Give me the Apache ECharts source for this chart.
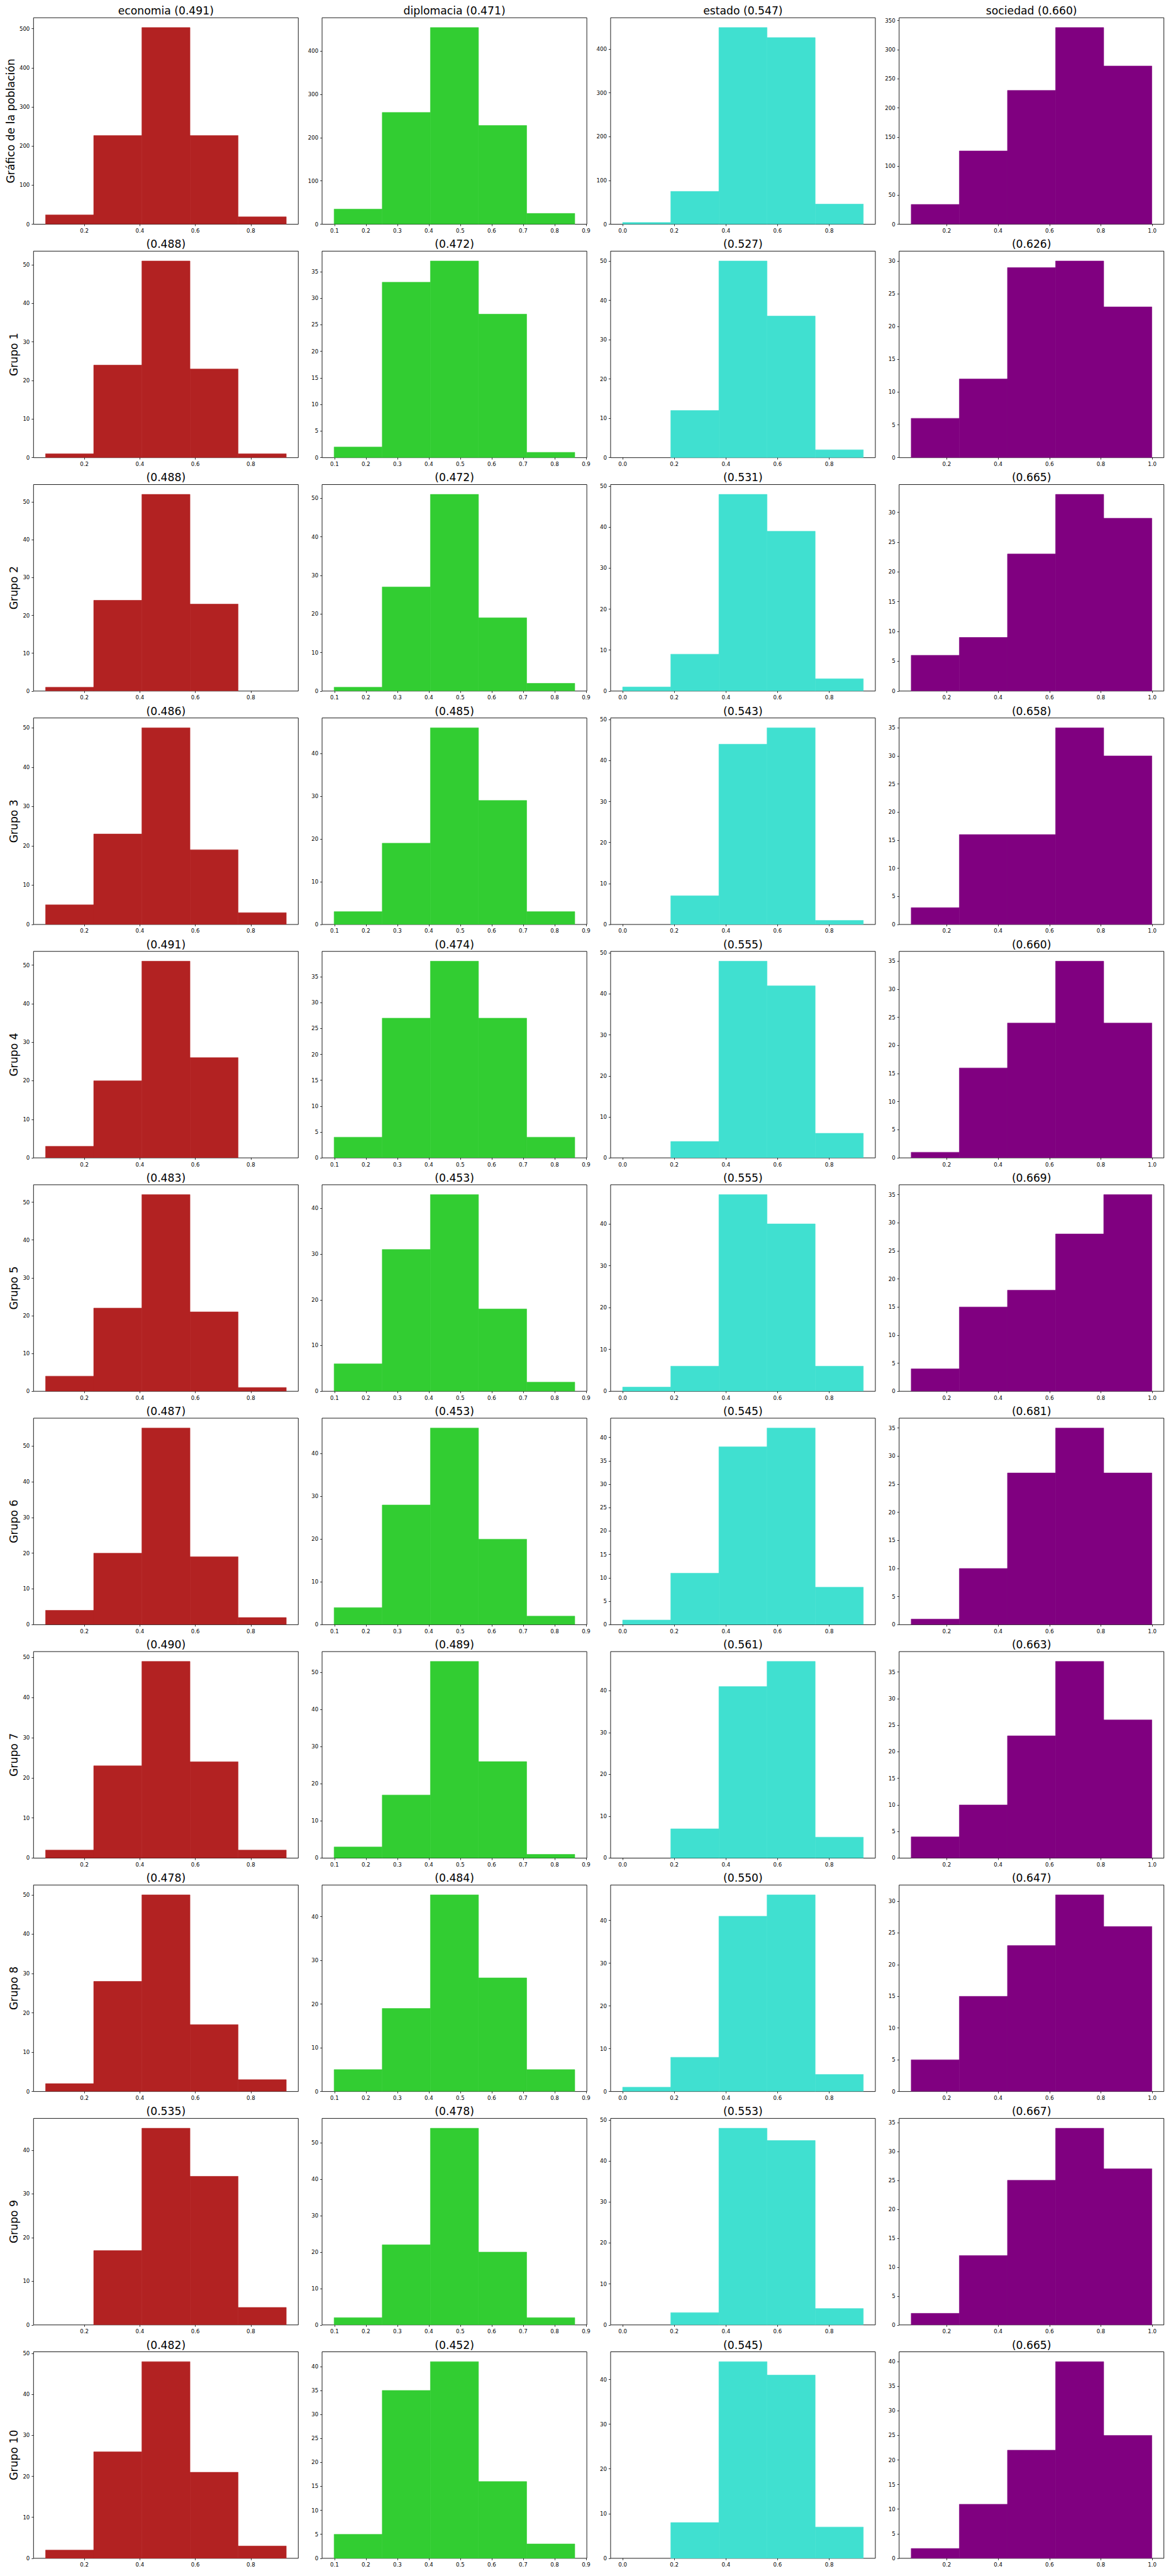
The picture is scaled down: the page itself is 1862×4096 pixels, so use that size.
<!DOCTYPE html>
<html>
<head>
<meta charset="utf-8">
<script src="https://cdn.jsdelivr.net/npm/echarts@6/dist/echarts.min.js"></script>
<style>
html,body{margin:0;padding:0;background:#fff;}
#c{width:1862px;height:4096px;}
</style>
</head>
<body>
<div id="c"></div>
<script>
// ---------- data ----------
const dimensionNames = ['economia', 'diplomacia', 'estado', 'sociedad'];
const dimensionColors = ['#B22222', '#32CD32', '#40E0D0', '#800080'];
const rowLabels = ['Gráfico de la población', 'Grupo 1', 'Grupo 2', 'Grupo 3', 'Grupo 4',
  'Grupo 5', 'Grupo 6', 'Grupo 7', 'Grupo 8', 'Grupo 9', 'Grupo 10'];

// histogram bin edges per dimension (5 bins)
const edgesEconomia   = [0.0602, 0.2337, 0.4072, 0.5807, 0.7541, 0.9276];
const edgesDiplomacia = [0.0988, 0.2518, 0.4049, 0.5579, 0.7110, 0.8640];
const edgesEstado     = [0.0000, 0.1864, 0.3728, 0.5592, 0.7456, 0.9320];
const edgesSociedad   = [0.0616, 0.2490, 0.4364, 0.6237, 0.8111, 0.9985];

// x tick labels per dimension
const xTicksEconomia   = [0.2, 0.4, 0.6, 0.8];
const xTicksDiplomacia = [0.1, 0.2, 0.3, 0.4, 0.5, 0.6, 0.7, 0.8, 0.9];
const xTicksEstado     = [0.0, 0.2, 0.4, 0.6, 0.8];
const xTicksSociedad   = [0.2, 0.4, 0.6, 0.8, 1.0];

// mean values shown in the titles (row 0 = population, then Grupo 1..10)
const meanEconomia   = [0.491, 0.488, 0.488, 0.486, 0.491, 0.483, 0.487, 0.490, 0.478, 0.535, 0.482];
const meanDiplomacia = [0.471, 0.472, 0.472, 0.485, 0.474, 0.453, 0.453, 0.489, 0.484, 0.478, 0.452];
const meanEstado     = [0.547, 0.527, 0.531, 0.543, 0.555, 0.555, 0.545, 0.561, 0.550, 0.553, 0.545];
const meanSociedad   = [0.660, 0.626, 0.665, 0.658, 0.660, 0.669, 0.681, 0.663, 0.647, 0.667, 0.665];

// counts per bin
const countsEconomia = [
  [24, 227, 503, 227, 19],
  [1, 24, 51, 23, 1],
  [1, 24, 52, 23, 0],
  [5, 23, 50, 19, 3],
  [3, 20, 51, 26, 0],
  [4, 22, 52, 21, 1],
  [4, 20, 55, 19, 2],
  [2, 23, 49, 24, 2],
  [2, 28, 50, 17, 3],
  [0, 17, 45, 34, 4],
  [2, 26, 48, 21, 3]
];
const countsDiplomacia = [
  [35, 258, 454, 228, 25],
  [2, 33, 37, 27, 1],
  [1, 27, 51, 19, 2],
  [3, 19, 46, 29, 3],
  [4, 27, 38, 27, 4],
  [6, 31, 43, 18, 2],
  [4, 28, 46, 20, 2],
  [3, 17, 53, 26, 1],
  [5, 19, 45, 26, 5],
  [2, 22, 54, 20, 2],
  [5, 35, 41, 16, 3]
];
const countsEstado = [
  [4, 75, 449, 426, 46],
  [0, 12, 50, 36, 2],
  [1, 9, 48, 39, 3],
  [0, 7, 44, 48, 1],
  [0, 4, 48, 42, 6],
  [1, 6, 47, 40, 6],
  [1, 11, 38, 42, 8],
  [0, 7, 41, 47, 5],
  [1, 8, 41, 46, 4],
  [0, 3, 48, 45, 4],
  [0, 8, 44, 41, 7]
];
const countsSociedad = [
  [34, 126, 230, 338, 272],
  [6, 12, 29, 30, 23],
  [6, 9, 23, 33, 29],
  [3, 16, 16, 35, 30],
  [1, 16, 24, 35, 24],
  [4, 15, 18, 28, 35],
  [1, 10, 27, 35, 27],
  [4, 10, 23, 37, 26],
  [5, 15, 23, 31, 26],
  [2, 12, 25, 34, 27],
  [2, 11, 22, 40, 25]
];

// ---------- layout (reference px * scale) ----------
const S = 0.62;
const colLeftRef = [86, 826, 1566, 2306];
const axWRef = 679;
const rowTop0Ref = 45.5, rowPitchRef = 598.6, axHRef = 529.6;
const FONT = 'DejaVu Sans';

const allEdges = [edgesEconomia, edgesDiplomacia, edgesEstado, edgesSociedad];
const allXTicks = [xTicksEconomia, xTicksDiplomacia, xTicksEstado, xTicksSociedad];
const allMeans = [meanEconomia, meanDiplomacia, meanEstado, meanSociedad];
const allCounts = [countsEconomia, countsDiplomacia, countsEstado, countsSociedad];

// matplotlib-like tick step (MaxNLocator, nbins=9, steps 1,2,2.5,5,10)
function niceStep(range) {
  const raw = range / 9;
  const scale = Math.pow(10, Math.floor(Math.log10(raw)));
  const steps = [1, 2, 2.5, 5, 10];
  for (const s of steps) { if (s * scale >= raw - 1e-12) return s * scale; }
  return 10 * scale;
}

const grids = [], xAxes = [], yAxes = [], series = [], graphics = [];
let k = 0;
for (let r = 0; r < rowLabels.length; r++) {
  const top = (rowTop0Ref + r * rowPitchRef) * S;
  const h = axHRef * S;
  for (let c = 0; c < 4; c++) {
    const left = colLeftRef[c] * S;
    const w = axWRef * S;
    const edges = allEdges[c];
    const counts = allCounts[c][r];
    const span = edges[5] - edges[0];
    const xmin = edges[0] - 0.05 * span, xmax = edges[5] + 0.05 * span;
    const cmax = Math.max.apply(null, counts);
    const ymax = cmax * 1.05;
    const step = niceStep(ymax);
    const yTicks = [];
    for (let v = 0; v <= ymax + 1e-9; v += step) yTicks.push(Math.round(v * 1000) / 1000);

    grids.push({left: left, top: top, width: w, height: h, show: true,
      borderColor: '#000', borderWidth: 0.9, backgroundColor: '#fff', containLabel: false});
    xAxes.push({type: 'value', gridIndex: k, min: xmin, max: xmax, position: 'bottom',
      splitLine: {show: false}, axisLine: {show: false, onZero: false},
      axisTick: {show: true, length: 3, inside: false, lineStyle: {color: '#000', width: 0.8},
        customValues: allXTicks[c]},
      axisLabel: {show: true, customValues: allXTicks[c], formatter: v => Number(v).toFixed(1),
        fontSize: 8.6, color: '#000', fontFamily: FONT, margin: 6,
        showMinLabel: true, showMaxLabel: true, hideOverlap: false}
    });
    yAxes.push({type: 'value', gridIndex: k, min: 0, max: ymax, position: 'left',
      splitLine: {show: false}, axisLine: {show: false, onZero: false},
      axisTick: {show: true, length: 3, inside: false, lineStyle: {color: '#000', width: 0.8},
        customValues: yTicks},
      axisLabel: {show: true, customValues: yTicks, formatter: v => String(Math.round(v)),
        fontSize: 8.6, color: '#000', fontFamily: FONT, margin: 6,
        showMinLabel: true, showMaxLabel: true, hideOverlap: false}
    });
    const color = dimensionColors[c];
    series.push({
      type: 'custom', coordinateSystem: 'cartesian2d', xAxisIndex: k, yAxisIndex: k,
      silent: true, animation: false, clip: true,
      encode: {x: [0, 1], y: 2},
      data: counts.map((cnt, i) => [edges[i], edges[i + 1], cnt]),
      renderItem: function (params, api) {
        const p0 = api.coord([api.value(0), 0]);
        const p1 = api.coord([api.value(1), api.value(2)]);
        const hgt = p0[1] - p1[1];
        if (hgt <= 0) return null;
        return {type: 'rect',
          shape: {x: p0[0], y: p1[1], width: p1[0] - p0[0], height: hgt},
          style: {fill: color, stroke: color, lineWidth: 0.6}};
      }
    });
    const titleTxt = (r === 0 ? dimensionNames[c] + ' ' : '') + '(' + allMeans[c][r].toFixed(3) + ')';
    graphics.push({type: 'text', x: left + w / 2, y: top - 11, silent: true,
      style: {text: titleTxt, x: 0, y: 0, fill: '#000', font: '17.2px "' + FONT + '"',
        align: 'center', verticalAlign: 'middle', textAlign: 'center', textVerticalAlign: 'middle'}});
    k++;
  }
  const lx = (r === 0 ? 27 : 36) * S;
  graphics.push({type: 'text', x: lx, y: top + h / 2, rotation: Math.PI / 2, silent: true,
    style: {text: rowLabels[r], x: 0, y: 0, fill: '#000', font: '17.2px "' + FONT + '"',
      align: 'center', verticalAlign: 'middle', textAlign: 'center', textVerticalAlign: 'middle'}});
}

const chart = echarts.init(document.getElementById('c'), null, {renderer: 'svg', width: 1862, height: 4096});
chart.setOption({
  animation: false,
  backgroundColor: '#fff',
  grid: grids,
  xAxis: xAxes,
  yAxis: yAxes,
  series: series,
  graphic: graphics
});
</script>
</body>
</html>
